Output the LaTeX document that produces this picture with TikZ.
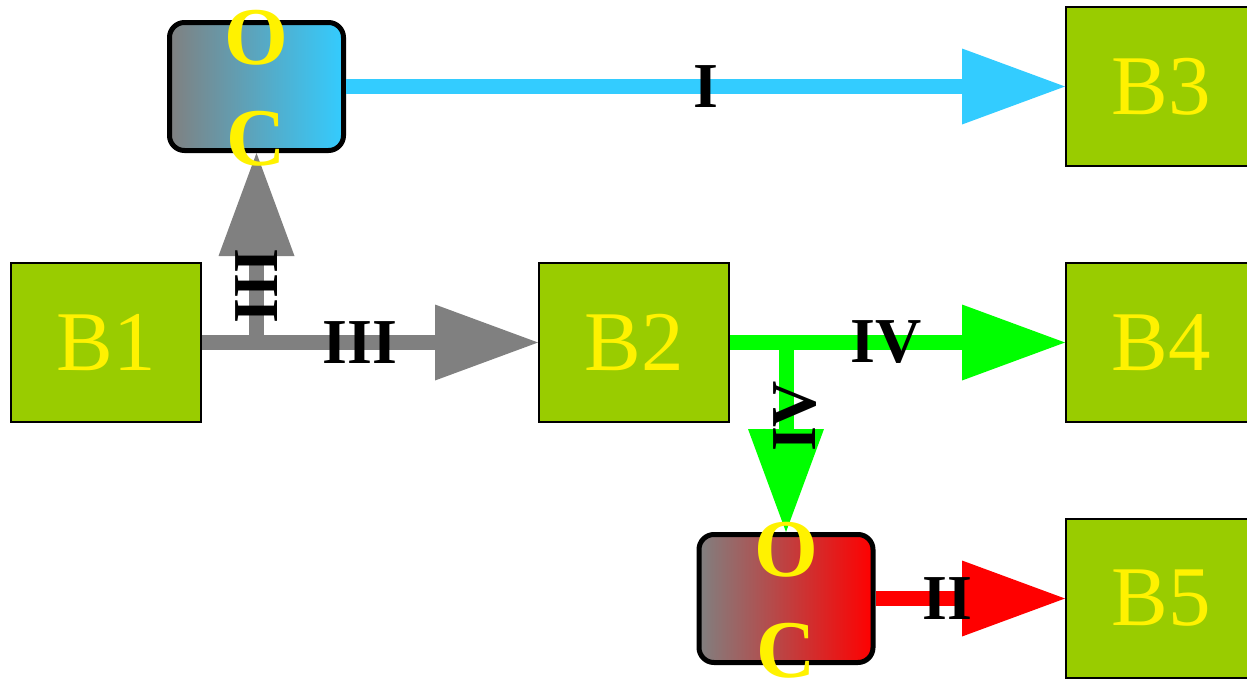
\documentclass[tikz,border=0pt]{standalone}
\usepackage{fontspec}
\setmainfont{Liberation Serif}
\usepackage{xcolor}
\usetikzlibrary{arrows.meta,positioning}

\definecolor{boxgreen}{HTML}{99CC00}
\definecolor{skyblue}{HTML}{33CCFF}
\definecolor{pathgray}{HTML}{808080}
\definecolor{brightgreen}{HTML}{00FF00}

\begin{document}
\begin{tikzpicture}[x=1pt, y=-1pt,
                    block/.style={draw, line width=2pt, fill=boxgreen, text=yellow,
                                  minimum width=190pt, minimum height=159pt,
                                  font=\fontsize{85}{85}\selectfont},
                    opbox/.style={draw, line width=5pt, rounded corners=15pt,
                                  minimum width=174pt, minimum height=128pt},
                    oclabel/.style={text=yellow, inner sep=0pt,
                                    font=\fontsize{82}{82}\selectfont\bfseries},
                    wire/.style={line width=15pt,
                                 -{Triangle[length=103pt, width=76pt, line width=0pt]}},
                    tag/.style={inner sep=0pt, text=black,
                                font=\fontsize{64}{64}\selectfont\bfseries}]
  \useasboundingbox (0,0) rectangle (1247,683);

  % blocks
  \node[block] (b1) at (106,342.5) {B1};
  \node[block] (b2) at (634,342.5) {B2};
  \node[block] (b3) at (1161,86.5) {B3};
  \node[block] (b4) at (1161,342.5) {B4};
  \node[block] (b5) at (1161,598.5) {B5};

  % operator boxes
  \node[opbox, left color=pathgray, right color=skyblue] (oc1) at (256.5,86.5) {};
  \node[opbox, left color=pathgray, right color=red] (oc2) at (786,598.5) {};

  \coordinate (split3) at (oc1.south |- b1.east);
  \coordinate (split4) at (oc2.north |- b2.east);

  % connectors
  \draw[wire, skyblue] (oc1.east) -- node[tag, pos=0.5] (l1) {I} (b3.west);
  \draw[wire, pathgray] (b1.east) -- node[tag, pos=0.47] (l3a) {III} (b2.west);
  \draw[wire, pathgray] (split3) -- node[tag, pos=0.3, rotate=90] (l3b) {III} (oc1.south);
  \draw[wire, brightgreen] (b2.east) -- node[tag, pos=0.466] (l4a) {IV} (b4.west);
  \draw[wire, brightgreen] (split4) -- node[tag, pos=0.39, xshift=9pt, rotate=90] (l4b) {IV} (oc2.north);
  \draw[wire, red] (oc2.east) -- node[tag, pos=0.38] (l2) {II} (b5.west);

  % O and C marks
  \node[oclabel] (o1) at ([yshift=49pt]oc1.center) {O};
  \node[oclabel] (c1) at ([yshift=-52pt]oc1.center) {C};
  \node[oclabel] (o2) at ([yshift=49pt]oc2.center) {O};
  \node[oclabel] (c2) at ([yshift=-52pt]oc2.center) {C};
\end{tikzpicture}
\end{document}
